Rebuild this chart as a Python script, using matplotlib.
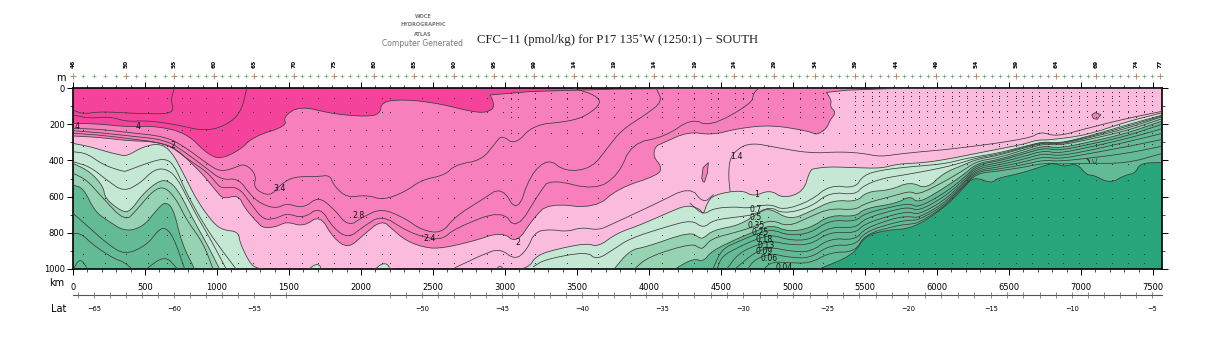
import numpy as np
import matplotlib
matplotlib.use('Agg')
import matplotlib.pyplot as plt

# cores das faixas (de cima para baixo)
cor_hot = '#F5439C'
cor_mid = '#F77FBB'
cor_light = '#FBBBDD'
cor_pale = '#C4E8D4'
cor_med = '#96D3B2'
cor_dark = '#62BB94'
cor_deep = '#29A57C'
XMAX = 7562

# isolinhas que mudam a cor: km e profundidade (m)
c0_km = [0, 187, 373, 581, 789, 928, 1021, 1160, 1252, 1484, 1461, 1576, 1808, 2039, 2132, 2144, 2306, 2537, 2769, 2873, 2935, 2873, XMAX]
c0_m = [195, 199, 214, 210, 250, 361, 394, 342, 269, 210, 158, 99, 144, 158, 144, 75, 63, 85, 131, 136, 103, 0, 0]
c1_km = [0, 187, 373, 558, 697, 812, 905, 998, 1044, 1148, 1194, 1275, 1322, 1414, 1484, 1600, 1715, 1808, 1912, 2016, 2144, 2225, 2306, 2421, 2537, 2769, 2977, 3081, 3197, 3301, 3625, 3787, 4065, 4088, 4030, 4042, 4088, 4273, 4438, 4620, 4852, 5118, 5164, 5234, 5257, 5299, 5257, 5268, 5210, XMAX]
c1_m = [265, 273, 291, 296, 324, 407, 481, 573, 613, 591, 665, 738, 775, 766, 738, 766, 702, 830, 886, 812, 729, 785, 840, 877, 889, 849, 794, 858, 720, 637, 665, 554, 481, 435, 380, 324, 306, 241, 260, 223, 204, 240, 260, 223, 177, 136, 103, 66, 0, 0]
c2_km = [0, 118, 234, 326, 373, 488, 604, 685, 766, 859, 975, 1044, 1148, 1160, 1229, 1275, 1400, 1623, 1680, 1715, 1727, 2086, 2144, 2190, 2201, 2931, 2965, 3000, 3162, 3220, 3382, 3567, 3648, 3775, 3938, 4123, 4262, 4354, 4377, 4400, 4447, 4644, 4724, 4840, 4933, 5072, 5118, 5153, 5257, 5419, 5616, 5720, 5905, 6067, 6229, 6391, 6600, 6692, 6785, 7040, 7318, 7549, XMAX]
c2_m = [306, 324, 352, 370, 376, 324, 306, 352, 471, 619, 748, 785, 794, 858, 969, 996, 1010, 1010, 974, 978, 1010, 1010, 969, 974, 1010, 1010, 978, 1010, 996, 923, 886, 858, 877, 803, 757, 692, 646, 668, 702, 640, 590, 563, 600, 563, 610, 573, 453, 444, 435, 440, 444, 420, 413, 394, 368, 343, 311, 287, 287, 260, 186, 140, 136]
c3l_km = [0, 118, 211, 222, 338, 396, 488, 604, 674, 743, 836, 928, 1021]
c3l_m = [416, 462, 545, 610, 683, 683, 582, 508, 517, 582, 729, 858, 1005]
c3_km = [3752, 3868, 3984, 4285, 4354, 4377, 4447, 4632, 4771, 4840, 4979, 5118, 5280, 5442, 5512, 5674, 5812, 5928, 6044, 6183, 6276, 6415, 6600, 6739, 6843, 7040, 7318, 7549, XMAX]
c3_m = [1005, 895, 877, 794, 830, 830, 785, 757, 683, 665, 729, 683, 619, 628, 573, 564, 518, 558, 470, 425, 394, 374, 333, 302, 311, 278, 223, 162, 160]
c4l_km = [0, 72, 153, 234, 361, 488, 581, 639, 697, 755, 847]
c4l_m = [536, 554, 683, 729, 794, 766, 674, 628, 665, 858, 1005]
c4_km = [4169, 4308, 4377, 4435, 4620, 4759, 4852, 4968, 5118, 5257, 5431, 5500, 5720, 5812, 5870, 6044, 6183, 6276, 6415, 6600, 6739, 6843, 7040, 7318, 7549, XMAX]
c4_m = [1005, 941, 960, 900, 830, 785, 757, 794, 775, 702, 711, 665, 637, 596, 637, 555, 480, 416, 398, 354, 319, 333, 302, 250, 186, 183]
c5_km = [5164, 5419, 5500, 5650, 5835, 6044, 6183, 6253, 6380, 6415, 6577, 6739, 6808, 6877, 6970, 7040, 7086, 7202, 7306, 7375, 7410, 7549, XMAX]
c5_m = [1005, 923, 816, 785, 775, 665, 554, 490, 527, 499, 472, 431, 413, 435, 416, 481, 481, 527, 481, 471, 416, 411, 411]

# isolinhas sem mudanca de cor
lines_km = [
    [0, 72, 187, 419, 650, 700, 680, 700, 705],
    [0, 120, 257, 373, 512, 697, 928, 1090, 1172, 1206],
    [0, 187, 373, 650, 789, 928, 1021, 1113, 1194, 1275, 1252, 1368, 1437, 1530, 1692, 1785, 1808, 1900, 2039, 2155, 2306, 2421, 2583, 2653, 2838, 2931, 2977, 3069, 3197, 3428, 3556, 3671, 3625, 3498, 3480],
    [0, 187, 373, 650, 789, 928, 1032, 1148, 1241, 1322, 1414, 1484, 1600, 1704, 1808, 1912, 2016, 2144, 2306, 2421, 2560, 2653, 2838, 2977, 3086, 3174, 3301, 3417, 3602, 3718, 3810, 3972, 4093, 4053, 4050],
    [0, 187, 373, 650, 789, 928, 998, 1032, 1148, 1241, 1322, 1414, 1484, 1600, 1715, 1808, 1912, 2016, 2144, 2306, 2421, 2560, 2653, 2977, 3081, 3243, 3313, 3625, 3787, 3880, 4111, 4296, 4424, 4713, 4725, 4759, 4770],
    [4563, 4551, 4563, 4644, 4736, 4852, 5118, 5326, 5488, 5604, 5766, 6160, 6646, 6716, 6831, 7040, 7318, 7549, XMAX],
    [0, 95, 211, 350, 373, 512, 627, 697, 789, 905, 998, 1137],
    [0, 118, 234, 350, 465, 558, 639, 720, 836, 951, 1067],
    [0, 95, 188, 361, 442, 558, 639, 720, 789, 905, 975],
    [0, 118, 234, 361, 512, 593, 639, 697, 778],
    [0, 60, 141, 280, 350, 419],
    [500, 639, 731],
    [0, 49, 106],
    [2653, 2838, 2965, 3070, 3151, 3208, 3313, 3428, 3532, 3648, 3730, 4053, 4285, 4377, 4447],
    [3197, 3278, 3567, 3637, 3764, 3868, 4123, 4296, 4377, 4447, 4632, 4725, 4840, 4933, 5118, 5257, 5431, 5488, 5616, 5812, 6044, 6183, 6276, 6415, 6600, 6739, 6843, 7040, 7318, 7549, XMAX],
    [4285, 4377, 4447, 4597, 4690, 4840, 4933, 5118, 5257, 5431, 5488, 5616, 5812, 6044, 6183, 6276, 6415, 6600, 6739, 6843, 7040, 7318, 7549, XMAX],
    [3891, 3995, 4296, 4354, 4377, 4435, 4620, 4759, 4852, 4968, 5118, 5257, 5431, 5500, 5720, 5812, 5870, 6044, 6183, 6276, 6415, 6600, 6739, 6843, 7040, 7318, 7549, XMAX],
    [4440, 4505, 4620, 4736, 4852, 4968, 5118, 5257, 5431, 5500, 5720, 5812, 5870, 6044, 6183, 6276, 6415, 6600, 6739, 6843, 7040, 7318, 7549, XMAX],
    [4470, 4505, 4620, 4736, 4852, 4968, 5118, 5257, 5431, 5500, 5720, 5812, 5870, 6044, 6183, 6276, 6415, 6600, 6739, 6843, 7040, 7318, 7549, XMAX],
    [4535, 4620, 4736, 4852, 4968, 5118, 5257, 5431, 5500, 5720, 5812, 5870, 6044, 6183, 6276, 6415, 6600, 6739, 6843, 7040, 7318, 7549, XMAX],
    [4590, 4736, 4852, 4968, 5118, 5257, 5431, 5500, 5720, 5812, 5870, 6044, 6183, 6276, 6415, 6600, 6739, 6843, 7040, 7318, 7549, XMAX],
    [4680, 4736, 4852, 4968, 5118, 5257, 5431, 5500, 5720, 5812, 5870, 6044, 6183, 6276, 6415, 6600, 6739, 6843, 7040, 7318, 7549, XMAX],
    [4790, 4852, 4968, 5118, 5257, 5431, 5500, 5720, 5812, 5870, 6044, 6183, 6276, 6415, 6600, 6739, 6843, 7040, 7318, 7549, XMAX],
    [7040, 7050, 7062, 7055, 7040],
    [7080, 7085, 7100, 7110],
]
lines_m = [
    [122, 144, 130, 140, 144, 122, 66, 10, 0],
    [149, 168, 158, 186, 180, 199, 241, 195, 122, 0],
    [223, 228, 245, 269, 333, 416, 462, 444, 416, 481, 554, 600, 536, 490, 490, 481, 536, 606, 591, 619, 573, 508, 481, 425, 398, 306, 260, 315, 204, 186, 158, 85, 39, 7, 0],
    [236, 247, 263, 287, 361, 444, 508, 499, 600, 646, 665, 637, 665, 600, 665, 766, 711, 665, 720, 785, 803, 711, 618, 545, 692, 481, 389, 462, 444, 324, 232, 149, 76, 7, 0],
    [250, 260, 278, 306, 389, 462, 528, 554, 545, 646, 729, 720, 692, 720, 656, 775, 830, 766, 702, 784, 821, 840, 775, 674, 785, 573, 503, 564, 481, 306, 269, 168, 214, 85, 29, 2, 0],
    [570, 481, 380, 320, 306, 324, 361, 352, 361, 380, 361, 333, 278, 241, 269, 223, 168, 131, 129],
    [352, 361, 425, 462, 458, 416, 389, 416, 582, 748, 858, 1005],
    [407, 435, 508, 573, 527, 453, 444, 490, 674, 830, 1005],
    [471, 508, 591, 739, 674, 564, 545, 619, 729, 858, 1005],
    [692, 775, 858, 923, 868, 785, 770, 821, 1005],
    [803, 806, 868, 941, 960, 1005],
    [1005, 923, 1005],
    [1005, 937, 1005],
    [993, 923, 886, 950, 895, 794, 781, 794, 770, 785, 757, 637, 545, 637, 590],
    [987, 947, 904, 950, 886, 831, 766, 729, 775, 729, 711, 700, 655, 695, 660, 575, 590, 540, 500, 475, 440, 410, 386, 368, 328, 299, 308, 273, 213, 157, 155],
    [637, 702, 665, 656, 665, 640, 675, 625, 536, 554, 481, 453, 435, 420, 393, 379, 361, 324, 296, 306, 269, 204, 153, 150],
    [1005, 932, 858, 886, 885, 831, 794, 757, 729, 766, 711, 665, 674, 637, 591, 570, 590, 520, 455, 405, 387, 343, 308, 317, 287, 236, 173, 170],
    [1005, 890, 848, 810, 780, 815, 803, 729, 738, 692, 650, 640, 660, 585, 500, 425, 405, 365, 331, 346, 315, 265, 204, 200],
    [1005, 930, 880, 838, 810, 840, 840, 766, 775, 720, 670, 660, 680, 605, 512, 435, 416, 379, 346, 361, 330, 280, 228, 224],
    [1005, 915, 870, 845, 865, 867, 794, 803, 748, 695, 685, 700, 625, 522, 445, 427, 394, 361, 376, 348, 298, 254, 250],
    [1005, 905, 880, 900, 908, 830, 840, 775, 715, 710, 718, 640, 530, 455, 438, 409, 379, 392, 365, 324, 287, 283],
    [1005, 945, 915, 935, 941, 867, 870, 794, 740, 730, 730, 652, 538, 463, 449, 424, 398, 405, 389, 361, 324, 320],
    [1005, 960, 965, 969, 908, 905, 808, 760, 752, 745, 660, 545, 472, 460, 438, 416, 420, 416, 416, 365, 360],
    [389, 400, 416, 395, 389],
    [395, 415, 420, 390],
]

# manchas fechadas
blob1_km = [4366, 4375, 4412, 4405, 4385, 4375]
blob1_m = [500, 440, 412, 470, 520, 518]
blob2_km = [7074, 7097, 7137, 7113, 7086]
blob2_m = [149, 136, 147, 173, 169]

# rotulos das isolinhas
label_txt = ['4', '4', '2', '3.4', '2.8', '2.4', '2', '1.4', '1', '0.7', '0.5', '0.35', '0.25', '0.18', '0.13', '0.09', '0.06', '0.04']
label_km = [28, 451, 694, 1437, 1986, 2479, 3090, 4604, 4750, 4743, 4743, 4743, 4771, 4799, 4813, 4799, 4833, 4938]
label_m = [215, 210, 320, 558, 702, 829, 851, 376, 591, 669, 715, 758, 798, 836, 871, 906, 941, 994]

# estacoes e amostras
stations_km = [72, 222, 370, 521, 650, 755, 813, 924, 1032, 1148, 1252, 1368, 1477, 1593, 1704, 1815, 1924, 2035, 2146, 2201,
               2421, 2537, 2648, 2762, 2873, 2989, 3042, 3093, 3208, 3317, 3428, 3532, 3648, 3759, 3873, 3984, 4088, 4204, 4315, 4428, 4481,
               4597, 4655, 4713, 4829, 4933, 5049, 5153, 5211, 5319, 5431, 5489, 5546, 5600, 5655, 5708, 5766, 5819, 5875, 5933, 5986, 6044,
               6102, 6155, 6211, 6269, 6322, 6380, 6433, 6488, 6546, 6600, 6658, 6711, 6769, 6824, 6877, 6931, 6988, 7044, 7102, 7155, 7213,
               7266, 7324, 7380, 7438, 7491]
shallow_m = [25, 60, 105, 160, 250]
dense_m = [20, 45, 70, 95, 125, 160, 205, 250, 310]
deep_m = [55, 130, 230, 320, 420, 510, 610, 710, 810, 915, 965]

# marcas superiores
big_km = [0, 370, 703, 981, 1257, 1535, 1813, 2090, 2370, 2648, 2926, 3203, 3481, 3759, 4037, 4315, 4592, 4870, 5153, 5430, 5715, 5993, 6271, 6549, 6826, 7104, 7382, 7549]
big_labels = ['46', '50', '55', '60', '65', '70', '75', '80', '85', '90', '95', '99', '14', '19', '14', '19', '24', '29', '34', '39', '44', '49', '54', '59', '64', '69', '74', '77']
small_km = [72, 146, 222, 296, 437, 503, 570, 636, 759, 814, 870, 925, 1037, 1092, 1147, 1202, 1313, 1369, 1424, 1480, 1591, 1647, 1702, 1758, 1868, 1924, 1979, 2035,
            2146, 2202, 2258, 2314, 2426, 2482, 2537, 2593, 2704, 2759, 2815, 2870, 2982, 3037, 3092, 3148, 3258, 3314, 3370, 3425, 3537, 3592, 3648, 3703,
            3815, 3870, 3926, 3981, 4093, 4148, 4204, 4259, 4370, 4426, 4481, 4537, 4648, 4703, 4759, 4814, 4927, 4983, 5040, 5097, 5208, 5264, 5319, 5375,
            5487, 5544, 5601, 5658, 5771, 5826, 5882, 5937, 6049, 6104, 6160, 6215, 6327, 6382, 6438, 6493, 6604, 6660, 6715, 6771, 6882, 6937, 6993, 7048,
            7160, 7215, 7271, 7326, 7438, 7493]

# eixo de latitude
lat_major_km = [147, 703, 1259, 2424, 2979, 3535, 4090, 4653, 5236, 5799, 6375, 6937, 7493]
lat_labels = ['\u221265', '\u221260', '\u221255', '\u221250', '\u221245', '\u221240', '\u221235', '\u221230', '\u221225', '\u221220', '\u221215', '\u221210', '\u22125']
lat_ticks_km = [36, 147, 258, 369, 480, 592, 703, 814, 925, 1036, 1147, 1259, 1370, 1481,
                2202, 2313, 2424, 2535, 2646, 2757, 2868, 2979, 3090, 3201, 3312, 3423, 3535, 3646, 3757, 3868, 3979, 4090,
                4202, 4315, 4428, 4540, 4653, 4770, 4887, 5003, 5120, 5236, 5349, 5461, 5574, 5687, 5799, 5914, 6030, 6145,
                6260, 6375, 6487, 6600, 6712, 6825, 6937, 7048, 7160, 7271, 7382, 7493]


# arredonda os cantos na hora de desenhar (corner cutting)
def suave(xs, ys, n=2):
    x = np.array(xs, dtype=float)
    y = np.array(ys, dtype=float)
    for _ in range(n):
        qx = 0.75 * x[:-1] + 0.25 * x[1:]
        qy = 0.75 * y[:-1] + 0.25 * y[1:]
        rx = 0.25 * x[:-1] + 0.75 * x[1:]
        ry = 0.25 * y[:-1] + 0.75 * y[1:]
        x = np.concatenate([[x[0]], np.column_stack([qx, rx]).ravel(), [x[-1]]])
        y = np.concatenate([[y[0]], np.column_stack([qy, ry]).ravel(), [y[-1]]])
    return x, y


def fill_below(xs, ys, color):
    x, y = suave(xs, ys)
    ax.fill(np.r_[x, x[-1], x[0]], np.r_[y, 1010, 1010], color=color, lw=0, zorder=1)
    ax.plot(x, y, color=cor_linha, lw=0.55, zorder=3)


cor_linha = '#3A3A3A'
W, H = 1215, 350
fig = plt.figure(figsize=(W / 100, H / 100), dpi=100)
ax = fig.add_axes([73 / W, 1 - 269 / H, (1162 - 73) / W, (269 - 88) / H])
ax.set_xlim(0, XMAX)
ax.set_ylim(1000, 0)
ax.set_facecolor(cor_hot)

fill_below(c0_km, c0_m, cor_mid)
fill_below(c1_km, c1_m, cor_light)
fill_below(c2_km, c2_m, cor_pale)
fill_below(c3l_km, c3l_m, cor_med)
fill_below(c3_km, c3_m, cor_med)
fill_below(c4l_km, c4l_m, cor_dark)
fill_below(c4_km, c4_m, cor_dark)
fill_below(c5_km, c5_m, cor_deep)
ax.fill(blob1_km, blob1_m, color=cor_mid, ec=cor_linha, lw=0.55, zorder=2)
ax.fill(blob2_km, blob2_m, color=cor_mid, ec=cor_linha, lw=0.55, zorder=2)

for xs, ys in zip(lines_km, lines_m):
    x, y = suave(xs, ys)
    ax.plot(x, y, color=cor_linha, lw=0.55, zorder=3)

# pontos das amostras
for i, x in enumerate(stations_km):
    if x > 5400:
        prof = dense_m
    elif x > 3000:
        prof = shallow_m
    else:
        prof = []
    ax.plot([x] * len(prof), prof, ls='', marker='s', ms=0.75, mew=0, color='#333333', zorder=4)
    if x < 3000 or i % 2 == 0:
        ax.plot([x] * len(deep_m), deep_m, ls='', marker='s', ms=0.75, mew=0, color='#333333', zorder=4)

for txt, x, y in zip(label_txt, label_km, label_m):
    ax.text(x, y, txt, fontsize=5.6, ha='center', va='center', color='#111111', zorder=5)

# eixos
ax.set_xticks(np.arange(0, 7501, 500))
ax.set_xticks(np.arange(0, 7501, 100), minor=True)
ax.set_yticks(np.arange(0, 1001, 200))
ax.set_yticks(np.arange(0, 1001, 100), minor=True)
ax.tick_params(axis='x', which='major', top=True, bottom=True, direction='out', length=4, width=0.7, labelsize=6, pad=6)
ax.tick_params(axis='x', which='minor', top=True, bottom=True, direction='out', length=2.5, width=0.5)
ax.tick_params(axis='y', which='major', left=True, right=True, direction='out', length=4, width=0.7, labelsize=6, pad=2)
ax.tick_params(axis='y', which='minor', left=True, right=True, direction='out', length=2.5, width=0.5)
for s in ax.spines.values():
    s.set_linewidth(1.2)

# cruzes e numeros de estacao
ax.plot(small_km, [-66] * len(small_km), ls='', marker='+', ms=3, mew=0.5, color='#6FA36F', clip_on=False)
ax.plot(big_km, [-66] * len(big_km), ls='', marker='+', ms=4.5, mew=0.6, color='#B0805A', clip_on=False)
for x, s in zip(big_km, big_labels):
    ax.text(x, -133, s, rotation=90, fontsize=4.2, fontweight='bold', ha='center', va='center', clip_on=False)

# escala de latitude
ax.plot([0, XMAX], [1144, 1144], color='#555555', lw=0.8, clip_on=False)
ax.vlines(lat_ticks_km, 1127, 1161, color='#666666', lw=0.55, clip_on=False)
for x, s in zip(lat_major_km, lat_labels):
    ax.text(x, 1222, s, fontsize=4.8, ha='center', va='center', clip_on=False)

fig.text(66 / W, 1 - 78 / H, 'm', fontsize=7, ha='right', va='center')
fig.text(64 / W, 1 - 283 / H, 'km', fontsize=7, ha='right', va='center')
fig.text(66 / W, 1 - 309 / H, 'Lat', fontsize=7, ha='right', va='center')

# titulo e logotipo
fig.text(477 / W, 1 - 40 / H, 'CFC\u221211 (pmol/kg) for P17 135\u02daW (1250:1) \u2212 SOUTH',
         family='Liberation Serif', fontsize=9.2, ha='left', va='center', color='#222222')
fig.text(423 / W, 1 - 43 / H, 'Computer Generated', fontsize=5.5, ha='center', va='center', color='#777777')
fig.text(423 / W, 1 - 16 / H, 'WOCE', fontsize=3.6, fontweight='bold', ha='center', va='center', color='#777777')
fig.text(423 / W, 1 - 25 / H, 'HYDROGRAPHIC', fontsize=3.6, fontweight='bold', ha='center', va='center', color='#777777')
fig.text(423 / W, 1 - 34 / H, 'ATLAS', fontsize=3.6, fontweight='bold', ha='center', va='center', color='#777777')

fig.savefig('out.png', dpi=100)
